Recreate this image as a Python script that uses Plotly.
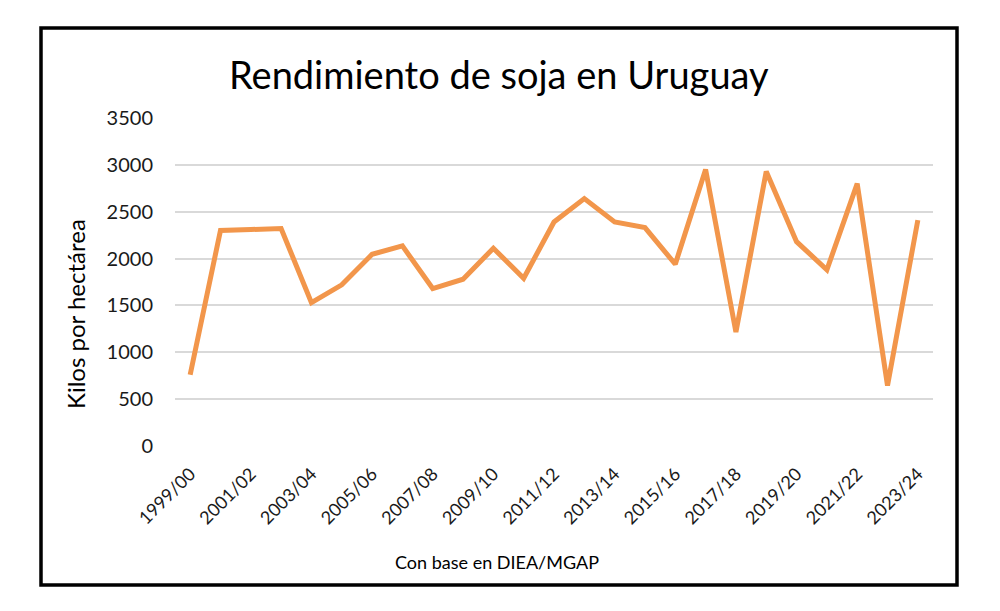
import plotly.graph_objects as go

seasons = ["1999/00", "2000/01", "2001/02", "2002/03", "2003/04", "2004/05", "2005/06",
           "2006/07", "2007/08", "2008/09", "2009/10", "2010/11", "2011/12", "2012/13",
           "2013/14", "2014/15", "2015/16", "2016/17", "2017/18", "2018/19", "2019/20",
           "2020/21", "2021/22", "2022/23", "2023/24"]
rendimiento = [760, 2300, 2310, 2320, 1530, 1720, 2045, 2135, 1680, 1780, 2110, 1790,
               2390, 2640, 2390, 2330, 1940, 2950, 1215, 2930, 2180, 1880, 2800, 645, 2410]
y_ticks = [0, 500, 1000, 1500, 2000, 2500, 3000, 3500]
x_tick_labels = seasons[::2]

FONT = "Lato, 'Liberation Sans', sans-serif"

# page has an 8px body margin; work in window pixels and convert
OFF = 8
W, H = 1000 - OFF, 611 - OFF
PL, PR, PT, PB = 175, 933, 118, 446  # plot area in window pixels
L = PL - OFF
R = W - (PR - OFF)
T = PT - OFF
B = H - (PB - OFF)
pw = PR - PL
ph = PB - PT

def px_x(p):
    return (p - PL) / pw

def px_y(p):
    return (PB - p) / ph

fig = go.Figure()
fig.add_trace(go.Scatter(
    x=seasons, y=rendimiento, mode="lines",
    line=dict(color="#F2964B", width=5),
    hoverinfo="x+y", showlegend=False,
))

fig.update_layout(
    width=W, height=H,
    margin=dict(l=L, r=R, t=T, b=B),
    paper_bgcolor="white", plot_bgcolor="white",
    font=dict(family=FONT, color="#222222"),
    xaxis=dict(
        type="category", range=[-0.5, len(seasons) - 0.5],
        tickmode="array", tickvals=x_tick_labels, ticktext=x_tick_labels,
        tickangle=-45, tickfont=dict(size=18, color="#1a1a1a"),
        showgrid=False, showline=False, zeroline=False, ticks="",
        ticklabelstandoff=13,
    ),
    yaxis=dict(
        range=[0, 3500], tickmode="array", tickvals=y_ticks,
        tickfont=dict(size=20, color="#1a1a1a"),
        showgrid=True, gridcolor="#D9D9D9", gridwidth=1.5,
        zeroline=False, showline=False, ticks="", ticklen=0,
        ticklabelstandoff=21,
    ),
    shapes=[dict(
        type="rect", xref="paper", yref="paper",
        x0=px_x(41), x1=px_x(957), y0=px_y(585), y1=px_y(28),
        line=dict(color="black", width=3.5), fillcolor="rgba(0,0,0,0)",
    )],
    annotations=[
        dict(text="Rendimiento de soja en Uruguay", xref="paper", yref="paper",
             x=px_x(499), y=px_y(74), showarrow=False,
             font=dict(size=38, color="#000000", family=FONT),
             xanchor="center", yanchor="middle"),
        dict(text="Kilos por hectárea", xref="paper", yref="paper",
             x=px_x(75), y=px_y(314), showarrow=False, textangle=-90,
             font=dict(size=24, color="#000000", family=FONT),
             xanchor="center", yanchor="middle"),
        dict(text="Con base en DIEA/MGAP", xref="paper", yref="paper",
             x=px_x(497), y=px_y(562), showarrow=False,
             font=dict(size=18, color="#000000", family=FONT),
             xanchor="center", yanchor="middle"),
    ],
)

fig.write_html("out.html")
